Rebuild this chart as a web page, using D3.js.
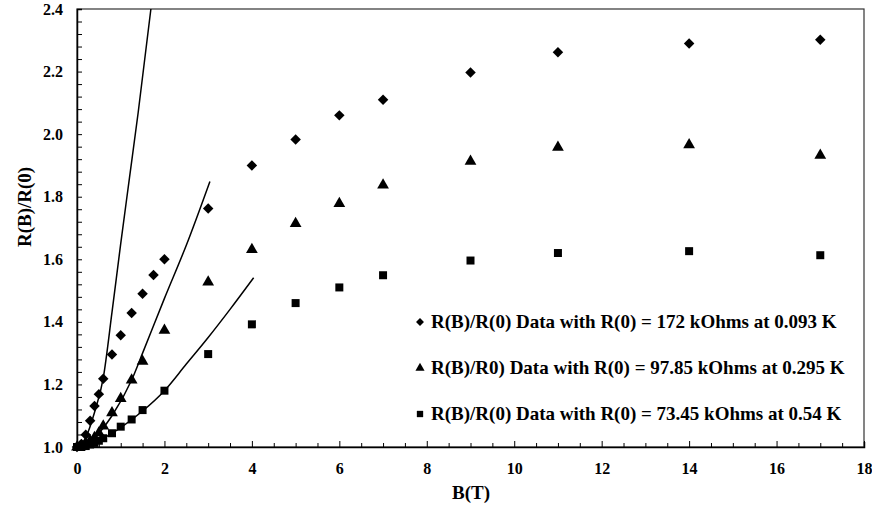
<!DOCTYPE html>
<html>
<head>
<meta charset="utf-8">
<script src="https://cdn.jsdelivr.net/npm/d3@7/dist/d3.min.js"></script>
<style>
  html, body { margin: 0; padding: 0; background: #fff; }
  svg text { font-family: "Liberation Serif", "Times New Roman", serif; font-weight: bold; fill: #000; }
</style>
</head>
<body>
<svg id="chart" width="872" height="511"></svg>
<script>
// ---- data ----
const bField = [0, 0.1, 0.2, 0.3, 0.4, 0.5, 0.6, 0.8, 1.0, 1.25, 1.5, 2, 3, 4, 5, 6, 7, 9, 11, 14, 17];
const bDiamond = [0, 0.1, 0.2, 0.3, 0.4, 0.5, 0.6, 0.8, 1.0, 1.25, 1.5, 1.75, 2, 3, 4, 5, 6, 7, 9, 11, 14, 17];
const rDiamond = [1.0, 1.01, 1.039, 1.084, 1.131, 1.169, 1.218, 1.296, 1.357, 1.428, 1.49, 1.55, 1.60, 1.762, 1.900, 1.983, 2.060, 2.110, 2.197, 2.262, 2.290, 2.302];
const rTriangle = [1.0, 1.003, 1.01, 1.02, 1.03, 1.045, 1.067, 1.109, 1.155, 1.214, 1.274, 1.373, 1.527, 1.631, 1.714, 1.778, 1.837, 1.913, 1.958, 1.966, 1.932];
const rSquare = [1.0, 1.0, 1.003, 1.008, 1.013, 1.02, 1.028, 1.044, 1.065, 1.088, 1.118, 1.180, 1.297, 1.392, 1.460, 1.510, 1.549, 1.596, 1.620, 1.626, 1.613];

// fitted curves
const fit1B = [0, 0.2, 0.4, 0.6, 0.8, 1.0, 1.2, 1.4, 1.69];
const fit1R = [1.0, 1.03, 1.11, 1.22, 1.43, 1.65, 1.86, 2.07, 2.4];
const fit2B = [0, 0.4, 0.8, 1.25, 1.5, 2.0, 2.5, 3.04];
const fit2R = [1.0, 1.03, 1.10, 1.214, 1.30, 1.475, 1.645, 1.849];
const fit3B = [0, 0.6, 1.0, 1.5, 2.0, 2.5, 3.0, 3.5, 4.04];
const fit3R = [1.0, 1.028, 1.062, 1.115, 1.18, 1.265, 1.35, 1.44, 1.541];

const xTicks = [0, 2, 4, 6, 8, 10, 12, 14, 16, 18];
const yTicks = [1.0, 1.2, 1.4, 1.6, 1.8, 2.0, 2.2, 2.4];
const legendLabels = [
  "R(B)/R(0) Data with R(0) = 172 kOhms at 0.093 K",
  "R(B)/R0) Data with R(0) = 97.85 kOhms at 0.295 K",
  "R(B)/R(0) Data with R(0) = 73.45 kOhms at 0.54 K"
];
const xTitle = "B(T)";
const yTitle = "R(B)/R(0)";

// ---- layout ----
const svg = d3.select("#chart");
const L = 77, R = 864, T = 9, B = 447;
const x = d3.scaleLinear().domain([0, 18]).range([L, R]);
const y = d3.scaleLinear().domain([1.0, 2.4]).range([B, T]);

// frame
svg.append("rect").attr("x", L).attr("y", T).attr("width", R - L).attr("height", B - T)
  .attr("fill", "none").attr("stroke", "#333").attr("stroke-width", 1.2);

// x axis (ticks inward)
const xMinor = d3.range(0, 18.01, 0.5);
svg.append("g").attr("transform", `translate(0,${B})`)
  .call(d3.axisTop(x).tickValues(xMinor).tickSize(5).tickFormat(""))
  .call(g => g.select(".domain").attr("stroke", "#000").attr("stroke-width", 1.5))
  .call(g => g.selectAll(".tick line").attr("stroke", "#000").attr("stroke-width", 1)
    .attr("y2", d => (Math.abs(d % 2) < 1e-9 ? -6 : -4)));
svg.append("g").attr("transform", `translate(0,${B})`)
  .call(d3.axisBottom(x).tickValues(xTicks).tickSize(0).tickPadding(16).tickFormat(d3.format("d")))
  .call(g => g.select(".domain").remove())
  .call(g => g.selectAll("text").style("font-size", "16px").style("font-family", "Liberation Serif").style("font-weight", "bold"));

// y axis (ticks inward)
const yMinor = d3.range(0, 36).map(i => 1.0 + i * 0.04);
svg.append("g").attr("transform", `translate(${L},0)`)
  .call(d3.axisRight(y).tickValues(yMinor).tickSize(5).tickFormat(""))
  .call(g => g.select(".domain").attr("stroke", "#000").attr("stroke-width", 1.5))
  .call(g => g.selectAll(".tick line").attr("stroke", "#000").attr("stroke-width", 1));
svg.append("g").attr("transform", `translate(${L},0)`)
  .call(d3.axisLeft(y).tickValues(yTicks).tickSize(0).tickPadding(14).tickFormat(d3.format(".1f")))
  .call(g => g.select(".domain").remove())
  .call(g => g.selectAll("text").style("font-size", "16px").style("font-family", "Liberation Serif").style("font-weight", "bold"));

// axis titles
svg.append("text").attr("x", 471).attr("y", 499).attr("text-anchor", "middle")
  .style("font-size", "19px").text(xTitle);
svg.append("text").attr("transform", `translate(31,207) rotate(-90)`).attr("text-anchor", "middle")
  .style("font-size", "19px").text(yTitle);

// fitted lines
const line = d3.line().x(d => x(d[0])).y(d => y(d[1])).curve(d3.curveMonotoneX);
[[fit1B, fit1R], [fit2B, fit2R], [fit3B, fit3R]].forEach(([bs, rs]) => {
  svg.append("path").datum(bs.map((b, i) => [b, rs[i]]))
    .attr("d", line).attr("fill", "none").attr("stroke", "#000").attr("stroke-width", 1.5);
});

// markers
const sym = {
  diamond: d3.symbol().type(d3.symbolDiamond2).size(70),
  triangle: d3.symbol().type(d3.symbolTriangle).size(60),
  square: d3.symbol().type(d3.symbolSquare).size(64)
};
const series = [
  { b: bDiamond, r: rDiamond, s: sym.diamond },
  { b: bField, r: rTriangle, s: sym.triangle },
  { b: bField, r: rSquare, s: sym.square }
];
series.forEach(sr => {
  svg.append("g").selectAll("path").data(sr.b.map((b, i) => [b, sr.r[i]])).join("path")
    .attr("transform", d => `translate(${x(d[0])},${y(d[1])})`)
    .attr("d", sr.s()).attr("fill", "#000");
});

// legend
const legendY = [322, 368, 414];
const legendSym = [
  d3.symbol().type(d3.symbolDiamond2).size(40),
  d3.symbol().type(d3.symbolTriangle).size(36),
  d3.symbol().type(d3.symbolSquare).size(40)
];
legendLabels.forEach((t, i) => {
  svg.append("path").attr("transform", `translate(420,${legendY[i]})`).attr("d", legendSym[i]()).attr("fill", "#000");
  svg.append("text").attr("x", 431).attr("y", legendY[i] + 6).style("font-size", "19px").text(t);
});
</script>
</body>
</html>
